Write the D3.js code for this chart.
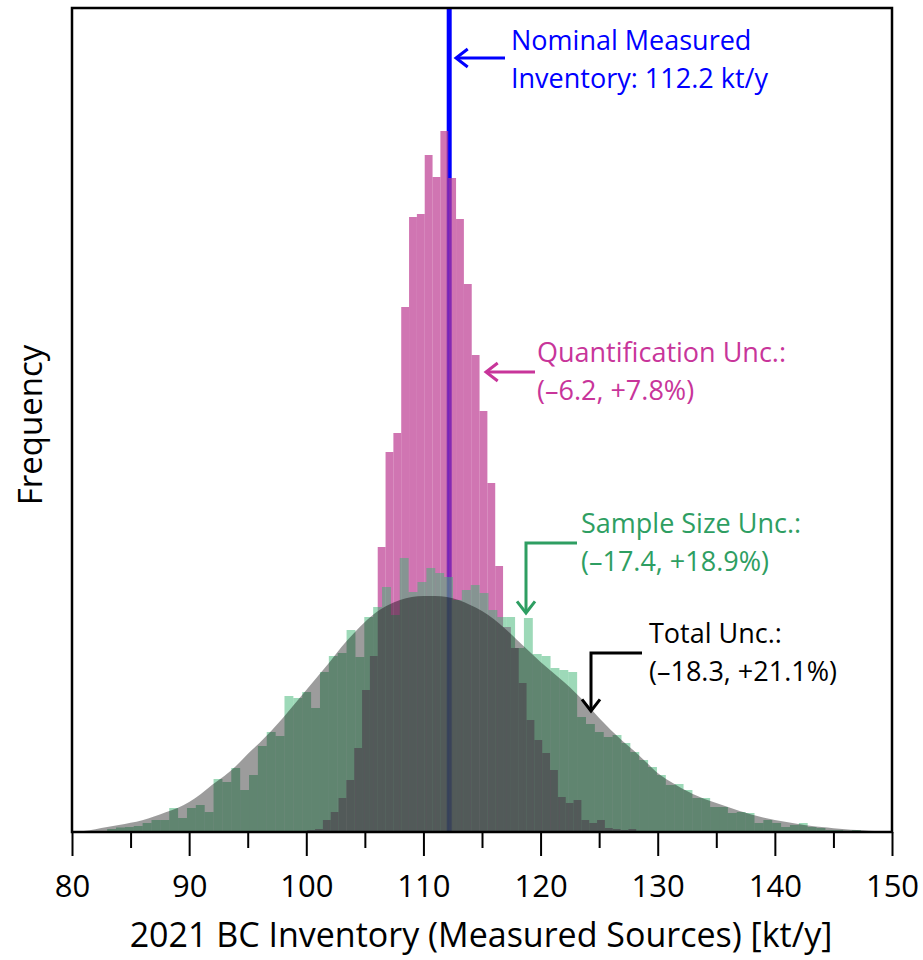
<!DOCTYPE html>
<html>
<head>
<meta charset="utf-8">
<script src="https://cdn.jsdelivr.net/npm/d3@7"></script>
<style>
  body { margin: 0; background: #fff; }
  svg { display: block; font-family: "Open Sans", sans-serif; }
</style>
</head>
<body>
<div id="chart"></div>
<script>
// x axis ticks
const majorTicks = [80, 90, 100, 110, 120, 130, 140, 150];
const minorTicks = [85, 95, 105, 115, 125, 135, 145];

// nominal measured inventory (kt/y)
const nominalValue = 112.2;

// total uncertainty, fine histogram read at every 1 kt/y (80 ... 150)
const totalStart = 80;
const totalStep = 1;
const totalValues = [
  0.3, 1, 2.8, 5, 7, 9.2, 11.8, 15.5, 19.8, 24,
  30, 38, 47.5, 56, 66, 78, 89, 101, 114, 128,
  142, 156, 170, 185, 198, 210, 220, 227, 232, 235,
  236, 236, 235, 232, 227, 221, 213, 203, 192, 181,
  170, 160, 150, 139, 127, 114, 102, 91, 81, 70,
  59, 51, 44, 38, 33, 29, 25, 21, 17.5, 14.5,
  12, 10, 8, 6.3, 5, 3.8, 2.8, 2, 1.3, 0.8,
  0.4
];

// sample size uncertainty histogram
const sampleStart = 83.0;
const sampleWidth = 0.757;
const sampleValues = [
  3, 4.5, 5, 6, 9, 12, 12, 24, 14, 24,
  27, 20, 53, 50, 64, 42, 57, 86, 100, 96,
  136, 134, 140, 124, 160, 176, 179, 202, 175, 215,
  225, 245, 217, 274, 240, 250, 264, 259, 255, 232,
  242, 247, 239, 222, 215, 215, 184, 214, 178, 176,
  164, 162, 160, 115, 108, 100, 95, 97, 89, 80,
  72, 65, 57, 47, 48, 42, 34, 34, 25, 25,
  19, 20, 19, 9, 12, 9, 5, 7, 9, 5,
  4, 2, 2, 1.3, 2, 0.5
];

// quantification uncertainty histogram
const quantStart = 100.08;
const quantWidth = 0.6687;
const quantValues = [
  2, 3, 12, 20, 34, 52, 84, 142, 176, 285,
  380, 399, 525, 615, 618, 677, 655, 701, 654, 613,
  548, 477, 421, 349, 266, 205, 184, 149, 112, 92,
  79, 62, 35, 29, 32, 12, 9, 12, 4, 3,
  2, 3, 1
];

const freqMax = 824;

const margin = { top: 8, right: 31, bottom: 128, left: 72 };
const W = 923, H = 960;
const width = W - margin.left - margin.right;
const height = H - margin.top - margin.bottom;

const svg = d3.select("#chart").append("svg")
  .attr("width", W)
  .attr("height", H);

const g = svg.append("g")
  .attr("transform", `translate(${margin.left},${margin.top})`);

const x = d3.scaleLinear().domain([80, 150]).range([0, width]);
const y = d3.scaleLinear().domain([0, freqMax]).range([height, 0]);

svg.append("defs").append("clipPath").attr("id", "plotclip")
  .append("rect").attr("width", width).attr("height", height);

const plot = g.append("g").attr("clip-path", "url(#plotclip)");

// nominal line (underneath the histograms)
plot.append("line")
  .attr("x1", x(nominalValue)).attr("x2", x(nominalValue))
  .attr("y1", 0).attr("y2", height)
  .attr("stroke", "#0000ff")
  .attr("stroke-width", 5);

function bins(start, w, vals) {
  return vals.map((v, i) => ({ x0: start + i * w, x1: start + (i + 1) * w, v: v }));
}

// quantification (magenta)
plot.append("g").selectAll("rect")
  .data(bins(quantStart, quantWidth, quantValues))
  .enter().append("rect")
  .attr("x", d => x(d.x0))
  .attr("width", d => x(d.x1) - x(d.x0))
  .attr("y", d => y(d.v))
  .attr("height", d => y(0) - y(d.v))
  .attr("fill", "#bc3a91")
  .attr("fill-opacity", 0.7);

// sample size (green)
plot.append("g").selectAll("rect")
  .data(bins(sampleStart, sampleWidth, sampleValues))
  .enter().append("rect")
  .attr("x", d => x(d.x0))
  .attr("width", d => x(d.x1) - x(d.x0))
  .attr("y", d => y(d.v))
  .attr("height", d => y(0) - y(d.v))
  .attr("fill", "#3cb371")
  .attr("fill-opacity", 0.5);

// total (gray, fine bins drawn as a filled outline)
const totalData = totalValues.map((v, i) => ({ k: totalStart + i * totalStep, v: v }));
plot.append("path")
  .datum(totalData)
  .attr("fill", "#000")
  .attr("fill-opacity", 0.39)
  .attr("d", d3.area()
    .x(d => x(d.k))
    .y0(y(0))
    .y1(d => y(d.v))
    .curve(d3.curveMonotoneX));

// axes
const xAxis = g.append("g")
  .attr("transform", `translate(0,${height})`)
  .call(d3.axisBottom(x).tickValues(majorTicks).tickSize(24).tickPadding(19));
xAxis.select(".domain").remove();
xAxis.selectAll("line").attr("stroke", "#000").attr("stroke-width", 2);
xAxis.selectAll("text")
  .attr("fill", "#000")
  .style("font-family", "Open Sans")
  .style("font-size", "31px");

const minorAxis = g.append("g")
  .attr("transform", `translate(0,${height})`)
  .call(d3.axisBottom(x).tickValues(minorTicks).tickSize(16).tickFormat(""));
minorAxis.select(".domain").remove();
minorAxis.selectAll("line").attr("stroke", "#000").attr("stroke-width", 2);

// frame
g.append("rect")
  .attr("width", width).attr("height", height)
  .attr("fill", "none")
  .attr("stroke", "#000")
  .attr("stroke-width", 2.5);

// axis titles
svg.append("text")
  .attr("x", 481)
  .attr("y", 947)
  .attr("text-anchor", "middle")
  .style("font-size", "34px")
  .text("2021 BC Inventory (Measured Sources) [kt/y]");

svg.append("text")
  .attr("transform", "translate(42,425) rotate(-90)")
  .attr("text-anchor", "middle")
  .style("font-size", "33px")
  .text("Frequency");

// annotations
function arrowHead(sel, tx, ty, dir, color) {
  const s = 9;
  let p;
  if (dir === "left") p = `M${tx + s * 1.3},${ty - s} L${tx},${ty} L${tx + s * 1.3},${ty + s}`;
  else p = `M${tx - s},${ty - s * 1.3} L${tx},${ty} L${tx + s},${ty - s * 1.3}`;
  sel.append("path").attr("d", p).attr("fill", "none")
    .attr("stroke", color).attr("stroke-width", 3)
    .attr("stroke-linejoin", "miter");
}

function note(lines, tx, ty, color) {
  const t = svg.append("text")
    .attr("x", tx).attr("y", ty)
    .attr("fill", color)
    .style("font-size", "27px");
  lines.forEach((l, i) => {
    t.append("tspan").attr("x", tx).attr("dy", i === 0 ? 0 : 38).text(l);
  });
}

const blue = "#0000ff", magenta = "#c8359a", green = "#2e9e62";

svg.append("path").attr("d", "M505,58 H457").attr("stroke", blue).attr("stroke-width", 3);
arrowHead(svg, 456, 58, "left", blue);
note(["Nominal Measured", "Inventory: 112.2 kt/y"], 511, 50, blue);

svg.append("path").attr("d", "M535,372 H487").attr("stroke", magenta).attr("stroke-width", 3);
arrowHead(svg, 486, 372, "left", magenta);
note(["Quantification Unc.:", "(\u20136.2, +7.8%)"], 537, 362, magenta);

svg.append("path").attr("d", "M577,543 H526 V612").attr("fill", "none").attr("stroke", green).attr("stroke-width", 3);
arrowHead(svg, 526, 613, "down", green);
note(["Sample Size Unc.:", "(\u201317.4, +18.9%)"], 581, 533, green);

svg.append("path").attr("d", "M642,653 H591 V710").attr("fill", "none").attr("stroke", "#000").attr("stroke-width", 3);
arrowHead(svg, 591, 711, "down", "#000");
note(["Total Unc.:", "(\u201318.3, +21.1%)"], 649, 643, "#000");
</script>
</body>
</html>
